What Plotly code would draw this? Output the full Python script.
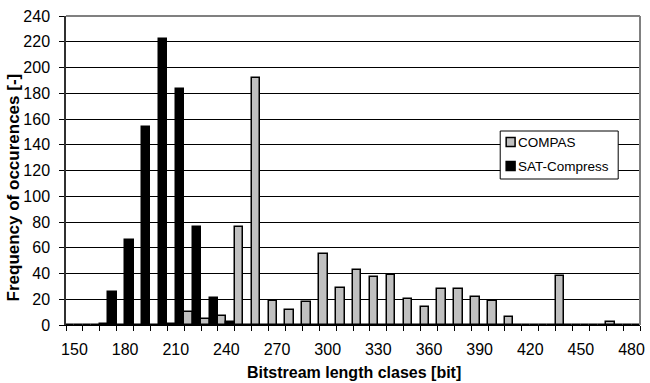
import plotly.graph_objects as go

classes = list(range(150, 490, 10))
compas = [0, 0, 1, 0, 0, 0, 1, 10, 5, 7, 76, 192, 19, 12, 18, 55, 29, 43, 37, 39,
          20, 14, 28, 28, 22, 19, 6, 0, 0, 38, 0, 0, 2, 0]
sat = [0, 0, 26, 66, 154, 222, 183, 76, 21, 2, 0, 0, 0, 0, 0, 0, 0, 0, 0, 0,
       0, 0, 0, 0, 0, 0, 0, 0, 0, 0, 0, 0, 0, 0]
tick_labels = list(range(150, 490, 30))
series_names = ["COMPAS", "SAT-Compress"]
series_colors = ["#c0c0c0", "black"]

font = "Liberation Sans, Arial, sans-serif"
W, H = 650, 383
L, R, T, B = 66, 5, 16, 58
PW, PH = W - L - R, H - T - B


def px(x):
    return (x - L) / PW


def py(y):
    return (H - B - y) / PH


fig = go.Figure()
for name, vals, col in zip(series_names, [compas, sat], series_colors):
    fig.add_trace(go.Bar(x=classes, y=vals, name=name, showlegend=False,
                         marker=dict(color=col, line=dict(color="black", width=1.5))))

shapes = [
    dict(type="line", xref="paper", yref="paper", x0=0, x1=1, y0=1, y1=1,
         line=dict(color="#808080", width=2), layer="above"),
    dict(type="line", xref="paper", yref="paper", x0=1, x1=1, y0=0, y1=1,
         line=dict(color="#808080", width=2), layer="above"),
    # legend box
    dict(type="rect", xref="paper", yref="paper", x0=px(504), x1=px(623), y0=py(179), y1=py(131),
         line=dict(color="black", width=1), fillcolor="white", layer="above"),
]
annotations = []
for i, (name, col) in enumerate(zip(series_names, series_colors)):
    cy = 142 + i * 24
    shapes.append(dict(type="rect", xref="paper", yref="paper",
                       x0=px(510), x1=px(519), y0=py(cy + 4.5), y1=py(cy - 4.5),
                       line=dict(color="black", width=1.5), fillcolor=col, layer="above"))
    annotations.append(dict(text=name, xref="paper", yref="paper", x=px(520), y=py(cy),
                            xanchor="left", yanchor="middle", showarrow=False,
                            font=dict(size=13.5, family=font, color="black")))

annotations.append(dict(text="<b>Frequency of occurences [-]</b>", xref="paper", yref="paper",
                        x=px(13), y=py(187), xanchor="center", yanchor="middle", textangle=-90,
                        showarrow=False, font=dict(size=17, family=font, color="black")))
annotations.append(dict(text="<b>Bitstream length clases [bit]</b>", xref="paper", yref="paper",
                        x=px(357), y=py(372), xanchor="center", yanchor="middle",
                        showarrow=False, font=dict(size=16, family=font, color="black")))

fig.update_layout(
    width=W, height=H,
    margin=dict(l=L, r=R, t=T, b=B),
    paper_bgcolor="white", plot_bgcolor="white",
    barmode="group", bargap=0.0, bargroupgap=0.0,
    font=dict(family=font, size=16, color="black"),
    showlegend=False,
    xaxis=dict(range=[145, 485], tickvals=tick_labels, ticktext=[str(v) for v in tick_labels],
               ticks="", showgrid=False, showline=True, linecolor="black", linewidth=1,
               ticklabelstandoff=10,
               minor=dict(ticks="outside", ticklen=5, tickcolor="black", tick0=145, dtick=10, showgrid=False),
               zeroline=False),
    yaxis=dict(range=[0, 240], dtick=20, ticks="outside", ticklen=5, tickcolor="black",
               showgrid=True, gridcolor="black", gridwidth=1, ticklabelstandoff=6,
               showline=True, linecolor="#303030", linewidth=1.5,
               zeroline=False),
    shapes=shapes,
    annotations=annotations,
)

fig.write_html("out.html")
